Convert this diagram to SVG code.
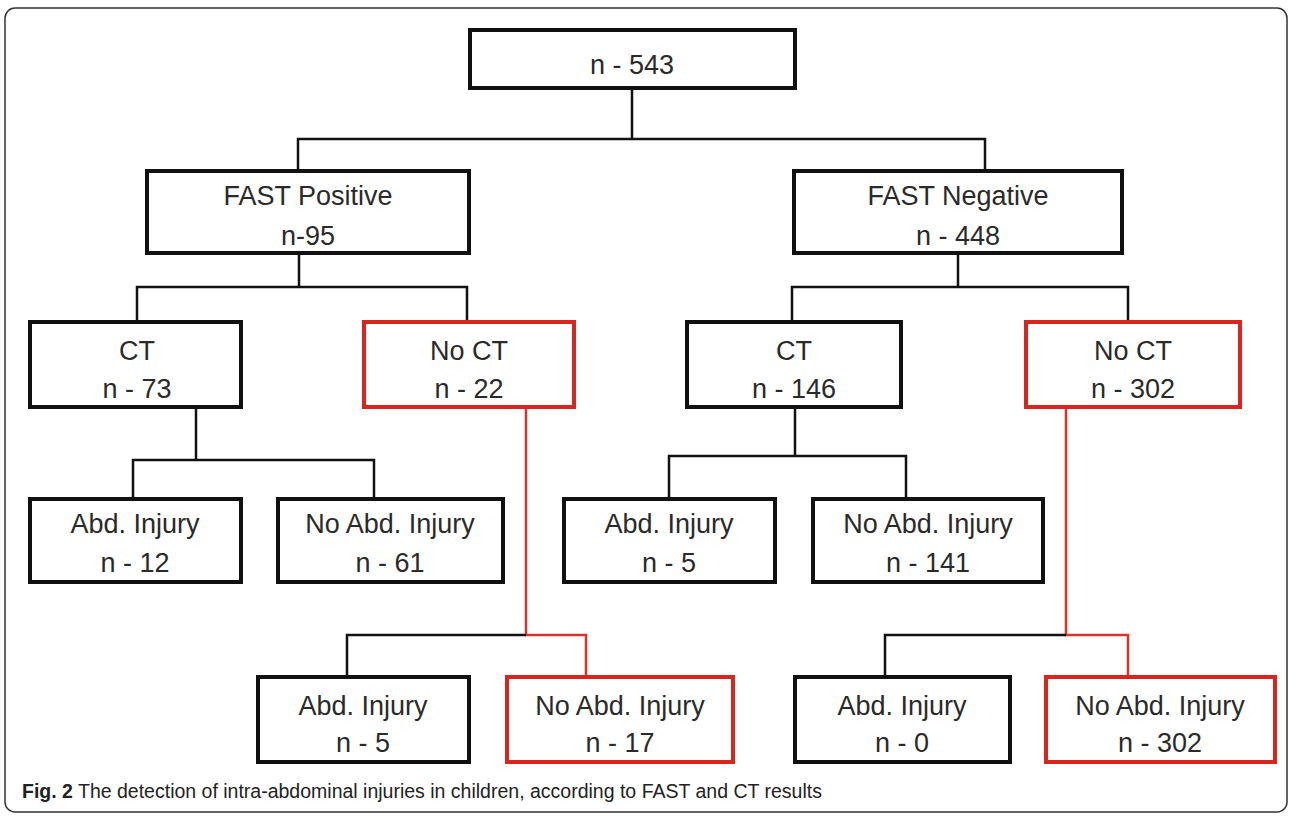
<svg xmlns="http://www.w3.org/2000/svg" width="1292" height="816" viewBox="0 0 1292 816">
<style>
.box{fill:#fff;stroke:#111;stroke-width:4}
.red{fill:#fff;stroke:#d8261e;stroke-width:4}
.t{font-family:"Liberation Sans",Arial,sans-serif;font-size:27px;fill:#2a2a2a;text-anchor:middle}
.c{fill:none;stroke:#111;stroke-width:2.5}
.cr{fill:none;stroke:#d8342c;stroke-width:2.5}
.cap{font-family:"Liberation Sans",Arial,sans-serif;font-size:19.5px;fill:#222}
</style>
<rect x="0" y="0" width="1292" height="816" fill="#fff"/>
<rect x="5" y="8" width="1282" height="804" rx="10" fill="#fff" stroke="#333" stroke-width="1.5"/>
<g id="connectors">
<path class="c" d="M632 88V139M298 171V139H985V171"/>
<path class="c" d="M299 253V287M137 322V287H467V322"/>
<path class="c" d="M958 253V287M792 322V287H1128V322"/>
<path class="c" d="M196 407V460M133 499V460H374V499"/>
<path class="c" d="M795 407V456M669 499V456H906V499"/>
<path class="cr" d="M526 407V635H586V677"/>
<path class="c" d="M526 635H347V677"/>
<path class="cr" d="M1066 407V635H1128V677"/>
<path class="c" d="M1066 635H885V677"/>
</g>
<g id="n543"><rect class="box" x="470" y="30" width="325" height="58"/><text class="t" x="632" y="74">n - 543</text></g>
<g id="fastpos"><rect class="box" x="147" y="171" width="322" height="82"/><text class="t" x="308" y="205">FAST Positive</text><text class="t" x="308" y="245">n-95</text></g>
<g id="fastneg"><rect class="box" x="794" y="171" width="328" height="82"/><text class="t" x="958" y="205">FAST Negative</text><text class="t" x="958" y="245">n - 448</text></g>
<g id="ct1"><rect class="box" x="30" y="322" width="211" height="85"/><text class="t" x="137" y="360">CT</text><text class="t" x="137" y="398">n - 73</text></g>
<g id="noct1"><rect class="red" x="364" y="322" width="210" height="85"/><text class="t" x="469" y="360">No CT</text><text class="t" x="469" y="398">n - 22</text></g>
<g id="ct2"><rect class="box" x="687" y="322" width="214" height="85"/><text class="t" x="794" y="360">CT</text><text class="t" x="794" y="398">n - 146</text></g>
<g id="noct2"><rect class="red" x="1026" y="322" width="214" height="85"/><text class="t" x="1133" y="360">No CT</text><text class="t" x="1133" y="398">n - 302</text></g>
<g id="abd1"><rect class="box" x="30" y="499" width="211" height="83"/><text class="t" x="135" y="533">Abd. Injury</text><text class="t" x="135" y="572">n - 12</text></g>
<g id="noabd1"><rect class="box" x="278" y="499" width="225" height="83"/><text class="t" x="390" y="533">No Abd. Injury</text><text class="t" x="390" y="572">n - 61</text></g>
<g id="abd2"><rect class="box" x="564" y="499" width="211" height="83"/><text class="t" x="669" y="533">Abd. Injury</text><text class="t" x="669" y="572">n - 5</text></g>
<g id="noabd2"><rect class="box" x="813" y="499" width="230" height="83"/><text class="t" x="928" y="533">No Abd. Injury</text><text class="t" x="928" y="572">n - 141</text></g>
<g id="abd3"><rect class="box" x="258" y="677" width="211" height="85"/><text class="t" x="363" y="715">Abd. Injury</text><text class="t" x="363" y="752">n - 5</text></g>
<g id="noabd3"><rect class="red" x="507" y="677" width="226" height="85"/><text class="t" x="620" y="715">No Abd. Injury</text><text class="t" x="620" y="752">n - 17</text></g>
<g id="abd4"><rect class="box" x="795" y="677" width="215" height="85"/><text class="t" x="902" y="715">Abd. Injury</text><text class="t" x="902" y="752">n - 0</text></g>
<g id="noabd4"><rect class="red" x="1046" y="677" width="229" height="85"/><text class="t" x="1160" y="715">No Abd. Injury</text><text class="t" x="1160" y="752">n - 302</text></g>
<text class="cap" x="22" y="798"><tspan font-weight="bold">Fig. 2</tspan> The detection of intra-abdominal injuries in children, according to FAST and CT results</text>
</svg>
